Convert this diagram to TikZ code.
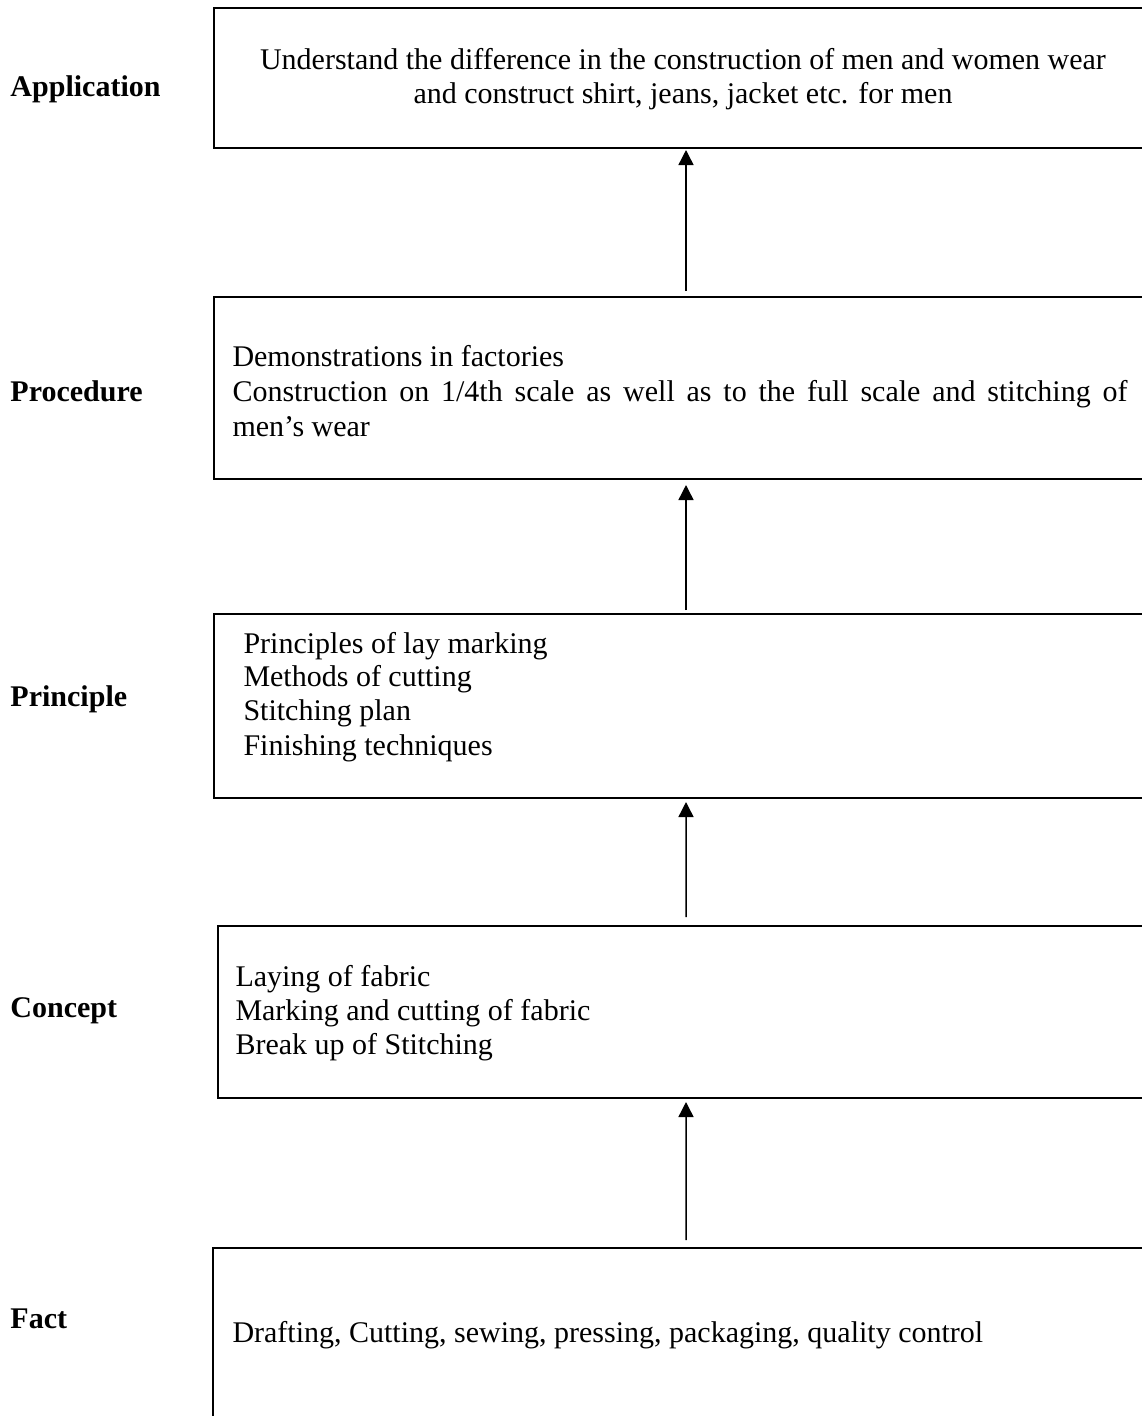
\documentclass[tikz,border=0pt]{standalone}
\usepackage{fontspec}
\setmainfont{Liberation Serif}
\usetikzlibrary{arrows.meta}
\begin{document}
\begin{tikzpicture}[x=0.4pt, y=-0.4pt,
  stagebox/.style={draw, line width=0.8pt, rectangle, anchor=north west, inner sep=0pt},
  body/.style={inner sep=0pt, anchor=base west, font=\fontsize{12}{13.8}\selectfont},
  level/.style={inner sep=0pt, anchor=base west, font=\fontsize{12}{13.8}\selectfont\bfseries},
  up/.style={line width=0.6pt, -{Triangle[width=6pt, length=6pt]}}]
\path[use as bounding box, fill=white] (0,0) rectangle (1142,1416);

% stage boxes (they run past the right and bottom edges)
\node[stagebox, minimum width=377.6pt, minimum height=56pt]   (b1) at (213,7)    {};
\node[stagebox, minimum width=377.6pt, minimum height=72.8pt] (b2) at (213,296)  {};
\node[stagebox, minimum width=377.6pt, minimum height=73.6pt] (b3) at (213,613)  {};
\node[stagebox, minimum width=374.4pt, minimum height=68.8pt] (b4) at (217,925)  {};
\node[stagebox, minimum width=378.4pt, minimum height=80pt]   (b5) at (212,1247) {};

% level names
\node[level] (l1) at (10,96)   {Application};
\node[level] (l2) at (10,401)  {Procedure};
\node[level] (l3) at (10,706)  {Principle};
\node[level] (l4) at (10,1017) {Concept};
\node[level] (l5) at (10,1328) {Fact};

% box contents
\node[body, anchor=base] (t11) at (683,69)  {Understand the difference in the construction of men and women wear};
\node[body, anchor=base] (t12) at (683,103) {and construct shirt, jeans, jacket etc. for men};

\node[body] (t21) at (232,366) {Demonstrations in factories};
\node[body] (t22) at (232,401) {\makebox[358pt][s]{Construction on 1/4th scale as well as to the full scale and stitching of}};
\node[body] (t23) at (232,436) {men’s wear};

\node[body] (t31) at (243,653) {Principles of lay marking};
\node[body] (t32) at (243,686) {Methods of cutting};
\node[body] (t33) at (243,720) {Stitching plan};
\node[body] (t34) at (243,755) {Finishing techniques};

\node[body] (t41) at (235,986)  {Laying of fabric};
\node[body] (t42) at (235,1020) {Marking and cutting of fabric};
\node[body] (t43) at (235,1054) {Break up of Stitching};

\node[body] (t51) at (232,1342) {Drafting, Cutting, sewing, pressing, packaging, quality control};

% upward arrows between stages
\draw[up, shorten <=2pt,   shorten >=0.4pt] (b2.north) -- (b1.south);
\draw[up, shorten <=1.2pt, shorten >=2pt]   (b3.north) -- (b2.south);
\draw[up, shorten <=3.2pt, shorten >=1.2pt] (b4.north) -- (b3.south);
\draw[up, shorten <=2.8pt, shorten >=1.2pt] (b5.north) -- (b4.south);
\end{tikzpicture}
\end{document}
